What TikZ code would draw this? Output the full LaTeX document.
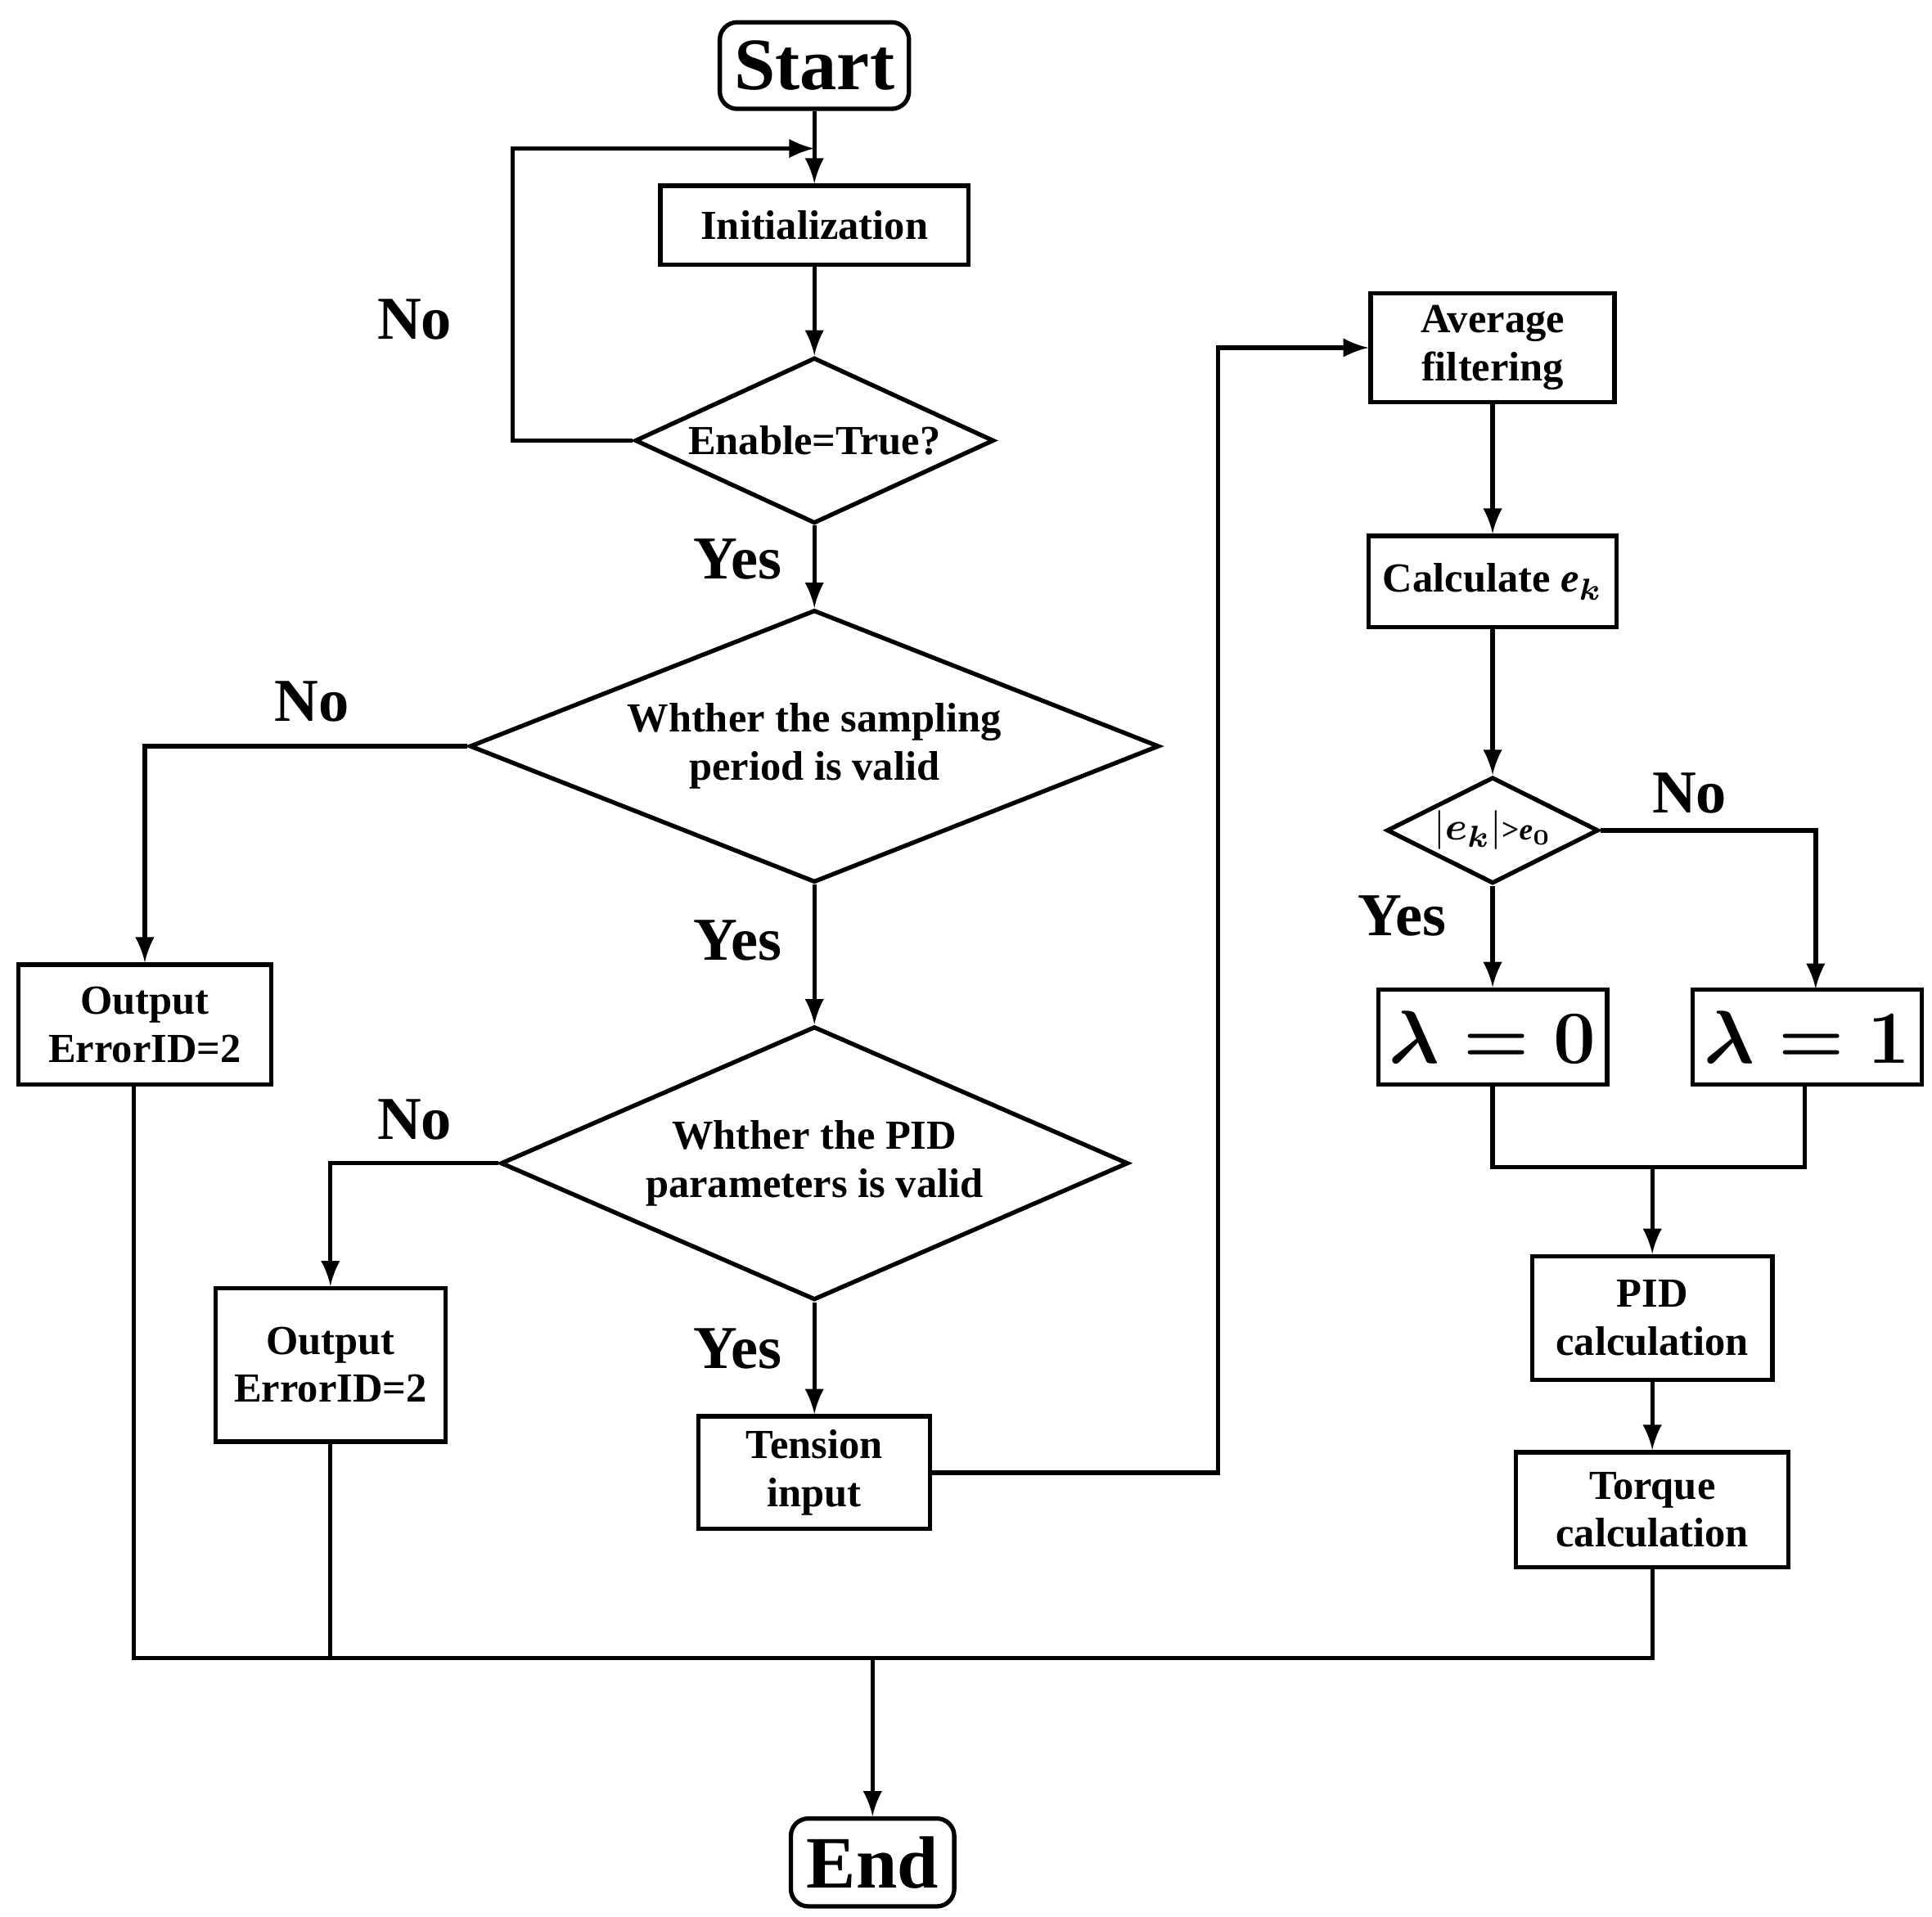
\documentclass[tikz,border=0pt]{standalone}
\usepackage{amsmath}
\usepackage{fontspec}
\setmainfont{Liberation Serif}
\usetikzlibrary{shapes.geometric, arrows}

\begin{document}
\begin{tikzpicture}
    [
        every node/.style = {font=\bfseries\fontsize{9.5}{11}\selectfont, align=center},
        box/.style = {draw, shape=rectangle, line width=1pt, inner sep=1pt},
        term/.style = {draw, shape=rectangle, rounded corners=4pt, line width=1pt, font=\bfseries\fontsize{17}{19}\selectfont},
        dec/.style = {draw, shape=diamond, aspect=2, line width=1pt, inner sep=0pt},
        lab/.style = {font=\bfseries\fontsize{14}{16}\selectfont},
        line/.style = {line width=1pt},
        arr/.style = {line width=1pt, -latex},
    ]
    \useasboundingbox (0,0) rectangle (15.61,15.49);

    \node[term, minimum width=1.33cm, minimum height=0.7cm] (start) at (6.58,14.96) {Start};
    \node[box, minimum width=2.49cm, minimum height=0.64cm] (init) at (6.58,13.67) {Initialization};
    \node[dec, minimum width=2.9cm, minimum height=1.34cm] (en) at (6.58,11.93) {Enable=True?};
    \node[dec, minimum width=5.57cm, minimum height=2.17cm] (samp) at (6.58,9.46) {Whther the sampling\\period is valid};
    \node[dec, minimum width=5.07cm, minimum height=2.21cm] (pid) at (6.58,6.09) {Whther the PID\\parameters is valid};
    \node[box, minimum width=1.87cm, minimum height=0.91cm] (tens) at (6.58,3.59) {Tension\\input};
    \node[box, minimum width=2.04cm, minimum height=0.97cm] (err1) at (1.17,7.21) {Output\\ErrorID=2};
    \node[box, minimum width=1.86cm, minimum height=1.24cm] (err2) at (2.67,4.46) {Output\\ErrorID=2};
    \node[box, minimum width=1.97cm, minimum height=0.88cm] (avg) at (12.06,12.68) {Average\\filtering};
    \node[box, minimum width=2.0cm, minimum height=0.74cm] (calc) at (12.06,10.79) {Calculate \textit{e}$_{\boldsymbol{k}}$};
    \node[dec, minimum width=1.71cm, minimum height=0.86cm] (cmp) at (12.06,8.78) {$|\boldsymbol{e_k}|$\scriptsize{>}\textit{e}$_{\boldsymbol{0}}$};
    \node[box, minimum width=1.85cm, minimum height=0.77cm, font=\fontsize{17}{19}\selectfont] (lz) at (12.06,7.11) {$\boldsymbol{\lambda=0}$};
    \node[box, minimum width=1.85cm, minimum height=0.77cm, font=\fontsize{17}{19}\selectfont] (lo) at (14.60,7.11) {$\boldsymbol{\lambda=1}$};
    \node[box, minimum width=1.94cm, minimum height=1.0cm] (pidc) at (13.35,4.84) {PID\\calculation};
    \node[box, minimum width=2.2cm, minimum height=0.93cm] (torq) at (13.35,3.29) {Torque\\calculation};
    \node[term, minimum width=1.32cm, minimum height=0.71cm] (end) at (7.05,0.44) {End};

    \coordinate (loop) at (6.58,14.29);
    \coordinate (bus) at (7.05,2.09);
    \coordinate (join) at (13.35,6.06);

    \draw [arr] (start) -- (init);
    \draw [arr] (init) -- (en);
    \draw [arr] (en.west) -- (4.14,11.93) |- (loop);
    \draw [arr] (en) -- (samp);
    \draw [arr] (samp.west) -| (err1.north);
    \draw [arr] (samp) -- (pid);
    \draw [arr] (pid.west) -| (err2.north);
    \draw [arr] (pid) -- (tens);
    \draw [arr] (tens.east) -- (9.84,3.59) |- (avg.west);
    \draw [arr] (avg) -- (calc);
    \draw [arr] (calc) -- (cmp);
    \draw [arr] (cmp) -- (lz);
    \draw [arr] (cmp.east) -| (14.67,7.50);
    \draw [line] (lz.south) |- (join) -| (14.58,6.72);
    \draw [arr] (join) -- (pidc);
    \draw [arr] (pidc) -- (torq);
    \draw [line] (err1.south -| 1.08,0) -- (1.08,2.09) -- (bus);
    \draw [line] (err2.south) -- (2.67,2.09);
    \draw [line] (torq.south) |- (bus);
    \draw [arr] (bus) -- (end);

    \node[lab] (no1) at (3.35,12.91) {No};
    \node[lab] (yes1) at (5.96,10.97) {Yes};
    \node[lab] (no2) at (2.52,9.82) {No};
    \node[lab] (yes2) at (5.96,7.89) {Yes};
    \node[lab] (no3) at (3.35,6.44) {No};
    \node[lab] (yes3) at (5.96,4.59) {Yes};
    \node[lab] (yes4) at (11.33,8.09) {Yes};
    \node[lab] (no4) at (13.65,9.08) {No};
\end{tikzpicture}
\end{document}
